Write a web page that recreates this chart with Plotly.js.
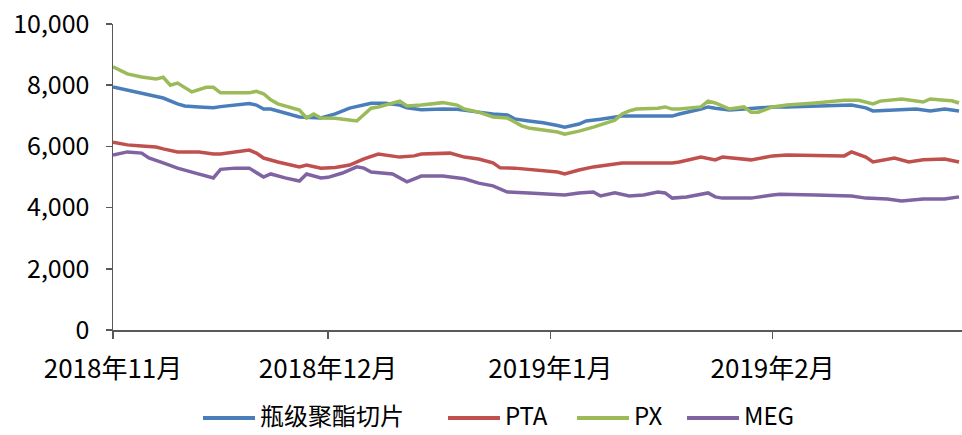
<!DOCTYPE html>
<html>
<head>
<meta charset="utf-8">
<script src="https://cdn.plot.ly/plotly-3.0.1.min.js"></script>
<style>html,body{margin:0;padding:0;background:#fff;}#chart{width:962px;height:435px;}</style>
</head>
<body>
<div id="chart"></div>
<script>
// ---- Data ----
const seriesNames = ['瓶级聚酯切片', 'PTA', 'PX', 'MEG'];

const petDates = ['2018-11-01','2018-11-03','2018-11-05','2018-11-06','2018-11-08','2018-11-10','2018-11-11','2018-11-13','2018-11-15','2018-11-16','2018-11-20','2018-11-21','2018-11-22','2018-11-23','2018-11-25','2018-11-27','2018-11-30','2018-12-02','2018-12-04','2018-12-07','2018-12-09','2018-12-11','2018-12-12','2018-12-14','2018-12-17','2018-12-19','2018-12-22','2018-12-24','2018-12-26','2018-12-27','2018-12-29','2018-12-31','2019-01-02','2019-01-03','2019-01-05','2019-01-06','2019-01-08','2019-01-09','2019-01-11','2019-01-18','2019-01-19','2019-01-22','2019-01-23','2019-01-24','2019-01-26','2019-01-28','2019-01-30','2019-02-01','2019-02-03','2019-02-07','2019-02-12','2019-02-14','2019-02-15','2019-02-18','2019-02-21','2019-02-23','2019-02-25','2019-02-27'];
const petValues = [7940,7840,7750,7680,7580,7390,7320,7290,7260,7300,7400,7350,7220,7220,7090,6960,6930,7060,7250,7410,7410,7350,7260,7200,7220,7210,7120,7060,7030,6900,6830,6770,6680,6630,6730,6830,6890,6930,6990,6990,7060,7220,7290,7250,7190,7220,7250,7290,7290,7320,7350,7260,7160,7190,7220,7160,7220,7160];

const ptaDates = ['2018-11-01','2018-11-03','2018-11-05','2018-11-07','2018-11-08','2018-11-10','2018-11-13','2018-11-15','2018-11-16','2018-11-18','2018-11-20','2018-11-21','2018-11-22','2018-11-24','2018-11-27','2018-11-28','2018-11-30','2018-12-02','2018-12-04','2018-12-06','2018-12-08','2018-12-11','2018-12-13','2018-12-14','2018-12-17','2018-12-18','2018-12-20','2018-12-22','2018-12-24','2018-12-25','2018-12-27','2018-12-30','2019-01-02','2019-01-03','2019-01-05','2019-01-07','2019-01-11','2019-01-18','2019-01-19','2019-01-22','2019-01-24','2019-01-25','2019-01-29','2019-02-01','2019-02-03','2019-02-11','2019-02-12','2019-02-14','2019-02-15','2019-02-18','2019-02-20','2019-02-22','2019-02-25','2019-02-27'];
const ptaValues = [6140,6050,6010,5980,5920,5820,5820,5750,5750,5820,5880,5780,5620,5490,5330,5390,5290,5310,5390,5590,5750,5650,5690,5750,5780,5780,5650,5590,5460,5300,5290,5230,5160,5100,5230,5330,5460,5460,5490,5650,5560,5650,5560,5690,5720,5690,5820,5650,5490,5620,5490,5560,5590,5490];

const pxDates = ['2018-11-01','2018-11-03','2018-11-05','2018-11-07','2018-11-08','2018-11-09','2018-11-10','2018-11-11','2018-11-12','2018-11-14','2018-11-15','2018-11-16','2018-11-20','2018-11-21','2018-11-22','2018-11-23','2018-11-24','2018-11-27','2018-11-28','2018-11-29','2018-11-30','2018-12-02','2018-12-05','2018-12-07','2018-12-08','2018-12-11','2018-12-12','2018-12-14','2018-12-17','2018-12-19','2018-12-20','2018-12-22','2018-12-24','2018-12-26','2018-12-27','2018-12-28','2018-12-29','2019-01-02','2019-01-03','2019-01-05','2019-01-07','2019-01-09','2019-01-10','2019-01-11','2019-01-12','2019-01-13','2019-01-16','2019-01-17','2019-01-18','2019-01-19','2019-01-22','2019-01-23','2019-01-24','2019-01-26','2019-01-28','2019-01-29','2019-01-30','2019-02-01','2019-02-03','2019-02-07','2019-02-11','2019-02-13','2019-02-15','2019-02-16','2019-02-18','2019-02-19','2019-02-22','2019-02-23','2019-02-25','2019-02-26','2019-02-27'];
const pxValues = [8600,8370,8270,8200,8260,8000,8070,7940,7780,7930,7930,7750,7750,7800,7720,7520,7390,7190,6930,7060,6930,6920,6830,7250,7290,7480,7320,7350,7430,7350,7220,7120,6960,6930,6800,6670,6600,6470,6400,6500,6630,6800,6860,7060,7160,7220,7250,7290,7220,7220,7290,7480,7420,7220,7290,7120,7120,7290,7350,7420,7510,7510,7390,7480,7510,7550,7450,7550,7510,7490,7420];

const megDates = ['2018-11-01','2018-11-03','2018-11-05','2018-11-06','2018-11-08','2018-11-10','2018-11-12','2018-11-15','2018-11-16','2018-11-18','2018-11-20','2018-11-22','2018-11-23','2018-11-25','2018-11-27','2018-11-28','2018-11-30','2018-12-01','2018-12-03','2018-12-05','2018-12-06','2018-12-07','2018-12-10','2018-12-12','2018-12-14','2018-12-17','2018-12-20','2018-12-22','2018-12-24','2018-12-26','2018-12-29','2019-01-02','2019-01-03','2019-01-05','2019-01-07','2019-01-08','2019-01-10','2019-01-12','2019-01-14','2019-01-16','2019-01-17','2019-01-18','2019-01-20','2019-01-23','2019-01-24','2019-01-25','2019-01-29','2019-02-01','2019-02-02','2019-02-07','2019-02-12','2019-02-14','2019-02-17','2019-02-19','2019-02-22','2019-02-25','2019-02-27'];
const megValues = [5720,5820,5780,5620,5460,5290,5160,4970,5250,5290,5290,5000,5100,4970,4870,5100,4970,4990,5130,5330,5290,5160,5100,4840,5030,5030,4940,4800,4710,4510,4480,4410,4410,4480,4510,4380,4480,4380,4410,4510,4480,4310,4350,4480,4350,4310,4310,4410,4440,4410,4380,4310,4280,4220,4280,4280,4350];

const tickDates = ['2018-11-01','2018-12-01','2019-01-01','2019-02-01'];
const tickLabels = ['2018年11月','2018年12月','2019年1月','2019年2月'];
const yTicks = [0, 2000, 4000, 6000, 8000, 10000];

const colors = ['#4A7EBB', '#C0504D', '#9BBB59', '#8064A2'];
// -----------------------------------------------

const FONT = '"Liberation Sans Narrow", "Noto Sans CJK SC", "DejaVu Sans Condensed", sans-serif';
const W = 962, H = 435;
const M = {l: 113, r: 0, t: 24, b: 105};
const plotW = W - M.l - M.r, plotH = H - M.t - M.b;

const xs = [petDates, ptaDates, pxDates, megDates];
const ys = [petValues, ptaValues, pxValues, megValues];

const traces = seriesNames.map((n, i) => ({
  type: 'scatter', mode: 'lines', name: n,
  x: xs[i], y: ys[i],
  line: {color: colors[i], width: 3.5},
  hoverinfo: 'skip'
}));

// Custom legend (pixel layout of the legend row, converted to paper coords)
const legendY = 415;
const legendItems = [
  {x0: 203, x1: 255, tx: 259},
  {x0: 448, x1: 500, tx: 504},
  {x0: 577, x1: 629, tx: 633},
  {x0: 687, x1: 739, tx: 743}
];
const px2x = p => (p - M.l) / plotW;
const px2y = p => (H - M.b - p) / plotH;
const shapes = legendItems.map((it, i) => ({
  type: 'line', xref: 'paper', yref: 'paper',
  x0: px2x(it.x0), x1: px2x(it.x1), y0: px2y(legendY + 3), y1: px2y(legendY + 3),
  line: {color: colors[i], width: 4}
}));
const annotations = legendItems.map((it, i) => ({
  xref: 'paper', yref: 'paper', x: px2x(it.tx), y: px2y(legendY),
  xanchor: 'left', yanchor: 'middle', showarrow: false, borderpad: 0,
  text: seriesNames[i], font: {family: FONT, size: 24, color: '#000'}
}));

const layout = {
  width: W, height: H,
  margin: {l: M.l, r: M.r, t: M.t, b: M.b, pad: 0},
  paper_bgcolor: '#fff', plot_bgcolor: '#fff',
  font: {family: FONT, size: 25, color: '#000'},
  showlegend: false,
  shapes: shapes, annotations: annotations,
  xaxis: {
    type: 'date', automargin: false,
    range: ['2018-11-01', '2019-02-27 10:00'],
    tickmode: 'array', tickvals: tickDates, ticktext: tickLabels,
    showgrid: false, zeroline: false,
    showline: true, linecolor: '#595959', linewidth: 1.5,
    ticks: 'outside', ticklen: 7, tickwidth: 1.5, tickcolor: '#595959',
    ticklabelstandoff: 8,
    tickfont: {family: FONT, size: 26, color: '#000'}
  },
  yaxis: {
    range: [0, 10000], automargin: false,
    tickmode: 'array', tickvals: yTicks, tickformat: ',d',
    showgrid: false, zeroline: false,
    showline: true, linecolor: '#595959', linewidth: 1.5,
    ticks: 'outside', ticklen: 6, tickwidth: 1.5, tickcolor: '#595959',
    ticklabelstandoff: 11,
    tickfont: {family: FONT, size: 25, color: '#000'}
  }
};

Plotly.newPlot('chart', traces, layout, {staticPlot: true, displayModeBar: false});
</script>
</body>
</html>
